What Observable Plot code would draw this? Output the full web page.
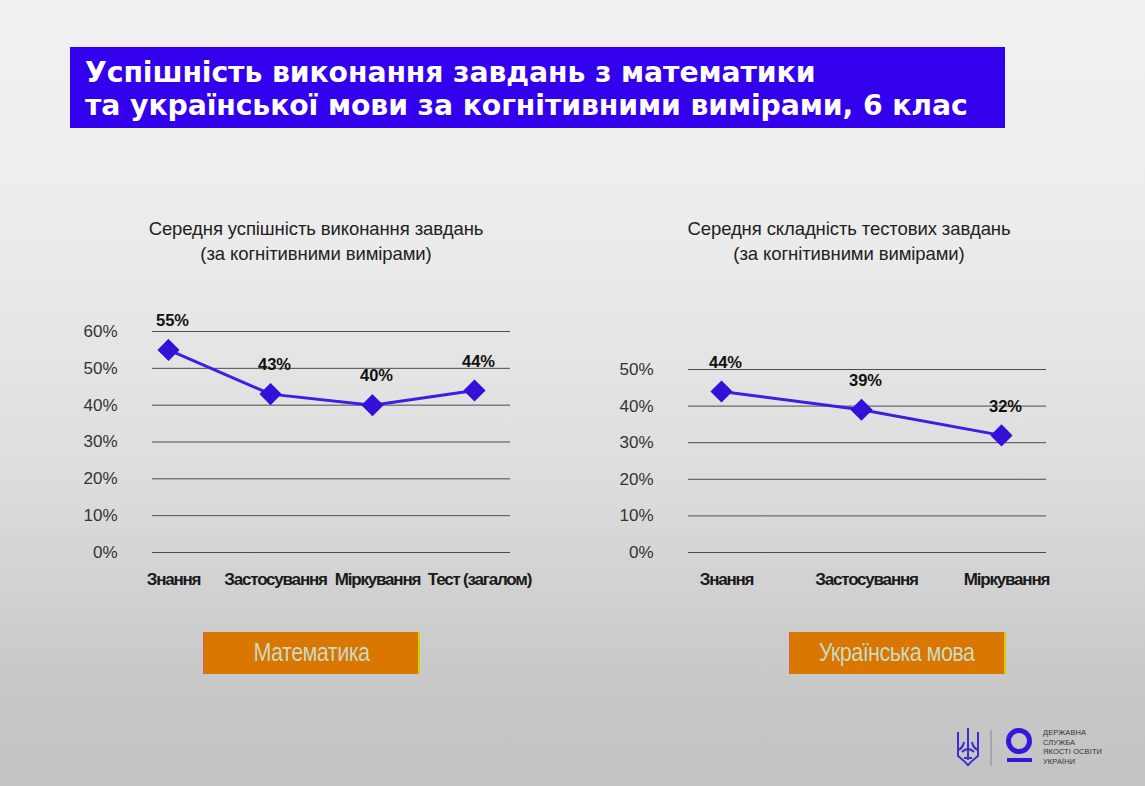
<!DOCTYPE html>
<html>
<head>
<meta charset="utf-8">
<script src="https://cdn.jsdelivr.net/npm/d3@7"></script>
<script src="https://cdn.jsdelivr.net/npm/@observablehq/plot@0.6"></script>
<style>
  html, body { margin: 0; padding: 0; }
  body {
    width: 1145px; height: 786px; position: relative; overflow: hidden;
    background: linear-gradient(to bottom, #f1f1f1 0%, #ececec 30%, #dcdcdc 62%, #c9c9c9 85%, #c3c3c3 100%);
    font-family: "Liberation Sans", Arial, sans-serif;
  }
  .title {
    position: absolute; left: 70px; top: 47px; width: 935px; height: 81px;
    background: #3300ee; color: #fff; box-sizing: border-box;
    padding: 9px 0 0 15px;
    font-family: "DejaVu Sans", sans-serif; font-weight: bold; font-size: 28.3px; line-height: 33px;
    letter-spacing: -0.1px; white-space: nowrap;
  }
  .sub {
    position: absolute; width: 460px; text-align: center; color: #222;
    font-size: 18.5px; line-height: 25px; letter-spacing: -0.1px;
  }
  .chart { position: absolute; top: 300px; }
  .chart svg { overflow: visible; }
  .chart g[aria-label="x-axis tick label"] text { letter-spacing: -1.2px; }
  .btn {
    position: absolute; top: 632px; width: 217px; height: 42px; box-sizing: border-box;
    background: #d97700; border-right: 2px solid #d6d000; border-left: 1px solid #e25a5a;
    color: #d8d8b8; font-size: 25px; text-align: center; line-height: 40px;
    text-shadow: 0 0 1px rgba(120,120,60,0.6);
  }
  .btn span { display: inline-block; transform: scaleX(0.86); letter-spacing: -0.6px; }
  .logo-text {
    position: absolute; left: 1043px; top: 728px; font-size: 7.5px; line-height: 9.6px; color: #333;
    letter-spacing: 0.1px;
  }
</style>
</head>
<body>
<div class="title">Успішність виконання завдань з математики<br>та української мови за когнітивними вимірами, 6 клас</div>

<div class="sub" style="left:86px; top:216px;">Середня успішність виконання завдань<br>(за когнітивними вимірами)</div>
<div class="sub" style="left:619px; top:216px;">Середня складність тестових завдань<br>(за когнітивними вимірами)</div>

<div id="left" class="chart" style="left:70px;"></div>
<div id="right" class="chart" style="left:600px;"></div>

<div class="btn" style="left:203px;"><span>Математика</span></div>
<div class="btn" style="left:789px;"><span>Українська мова</span></div>

<svg style="position:absolute; left:950px; top:720px;" width="90" height="50">
  <g fill="none" stroke="#3a2fc8" stroke-width="2">
    <path d="M8 12 L8 36 Q18 44 18 46 Q18 44 28 36 L28 12 M8 30 Q13 28 14 22 M28 30 Q23 28 22 22 M18 8 L18 40 M12 32 Q18 26 24 32 M14 38 L22 38"/>
  </g>
  <line x1="41" y1="10" x2="41" y2="46" stroke="#888" stroke-width="1"/>
  <circle cx="69" cy="21" r="10.5" fill="none" stroke="#3616d8" stroke-width="5"/>
  <rect x="57" y="38" width="25" height="4" fill="#3616d8"/>
</svg>
<div class="logo-text">ДЕРЖАВНА<br>СЛУЖБА<br>ЯКОСТІ ОСВІТИ<br>УКРАЇНИ</div>

<script>
const mathCategories = ["Знання", "Застосування", "Міркування", "Тест (загалом)"];
const mathValues = [55, 43, 40, 44];
const mathTicks = [0, 10, 20, 30, 40, 50, 60];

const ukrCategories = ["Знання", "Застосування", "Міркування"];
const ukrValues = [44, 39, 32];
const ukrTicks = [0, 10, 20, 30, 40, 50];

const lineColor = "#3d1ee6";
const dotColor = "#3410d8";

function makeChart(categories, values, ticks, opts) {
  const data = categories.map((c, i) => ({cat: c, v: values[i]}));
  return Plot.plot({
    width: opts.width, height: 300,
    marginLeft: opts.marginLeft, marginRight: opts.marginRight,
    marginTop: opts.marginTop, marginBottom: 48,
    style: {background: "transparent", fontFamily: "'Liberation Sans', Arial, sans-serif", color: "#222"},
    x: {type: "point", domain: categories, padding: 0, insetLeft: opts.insetLeft, insetRight: opts.insetRight},
    y: {domain: [0, d3.max(ticks)]},
    marks: [
      Plot.ruleY(ticks, {stroke: "#333", strokeWidth: 1, strokeOpacity: 0.85}),
      Plot.axisY(ticks, {tickSize: 0, tickPadding: 35, tickFormat: d => d + "%", fontSize: 17, fill: "#333", label: null}),
      Plot.axisX({tickSize: 0, tickPadding: 20, fontSize: 17, fontWeight: "bold", fill: "#1a1a1a", label: null, dx: 5}),
      Plot.line(data, {x: "cat", y: "v", stroke: lineColor, strokeWidth: 3}),
      Plot.dot(data, {x: "cat", y: "v", symbol: "diamond2", r: 9, fill: dotColor, stroke: dotColor}),
      Plot.text(data, {x: "cat", y: "v", text: d => d.v + "%", dy: -29, dx: 4, fontSize: 16.5, fontWeight: "bold", fill: "#111"})
    ]
  });
}

document.getElementById("left").append(makeChart(mathCategories, mathValues, mathTicks,
  {width: 490, marginLeft: 82, marginRight: 50, marginTop: 31, insetLeft: 16, insetRight: 36}));
document.getElementById("right").append(makeChart(ukrCategories, ukrValues, ukrTicks,
  {width: 470, marginLeft: 88, marginRight: 24, marginTop: 69, insetLeft: 32, insetRight: 45}));
</script>
</body>
</html>
